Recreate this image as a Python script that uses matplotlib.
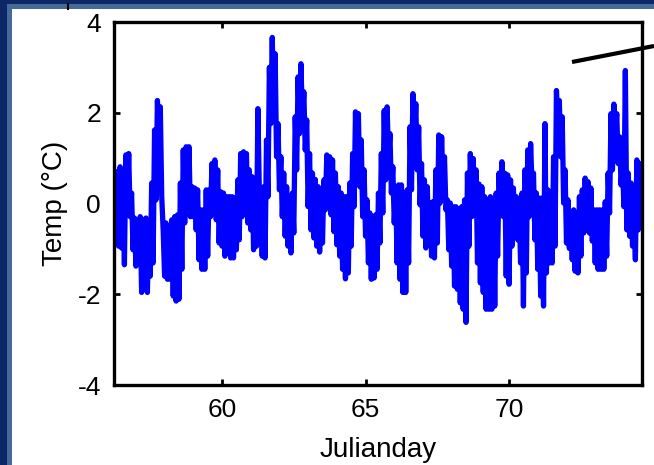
import numpy as np
import matplotlib
matplotlib.use("Agg")
import matplotlib.pyplot as plt
from matplotlib.patches import Rectangle
from matplotlib.lines import Line2D

# temperature anomaly (deg C), highest and lowest reading in each
# 0.1 julian-day window, starting at day 56.25
t0 = 56.25
dt = 0.1
temp_hi = [
    0.70, 0.59, 0.81, 0.67, 1.07, 1.10, 0.23, -0.32, -0.50, -0.29,
    -0.36, -0.32, -0.50, 0.45, 1.62, 2.27, 2.13, -0.58, -0.43, -0.72,
    -0.36, -0.29, -0.25, 0.45, 1.18, 1.25, 1.25, 0.37, 0.34, 0.30,
    -0.14,
    -0.14, 0.30, 0.30, 0.88, 0.96, 0.74, 0.26, 0.23, 0.15, 0.15,
    0.15, 0.12, 0.52, 1.10, 1.14, 1.10, 0.74, 0.59, 0.45, 2.09,
    0.23, 0.37, 1.40, 3.00, 3.66, 3.30, 1.76, 1.03, 0.67, 0.37,
    0.15,
    0.23, 1.91, 2.79, 3.08, 2.46, 1.84, 1.10, 0.67, 0.53, 0.37,
    0.12, 0.52, 1.07, 1.03, 0.96, 0.67, 0.37, 0.23, 0.15, 0.15,
    0.45, 1.10, 2.02, 1.98, 1.40, 0.74, 0.08, -0.21, -0.32, -0.25,
    0.23, 1.10, 2.05, 2.13, 1.54, 0.81, 0.37, 0.41, 0.41, 0.12,
    0.30, 1.69, 2.42, 2.20, 1.69, 0.88, 0.52, 0.37, 0.01, 0.04,
    0.74, 1.51, 1.47, 1.03, 0.08, 0.01, -0.07, -0.07, -0.12, -0.07,
    0.08,
    0.67, 1.10, 0.99, 0.74, 0.43, 0.37, 0.15, 0.08, 0.15, 0.08,
    0.23, 0.67, 0.92, 0.67, 0.63, 0.52, 0.34, 0.15, 0.08, 0.23,
    0.74, 1.18, 1.32, 0.67, 0.23, 0.12, 0.12, 1.76, 0.30, 0.23,
    1.03,
    2.49, 2.27, 1.91, 0.74, 0.08, -0.29, -0.14, -0.25, 0.15, 0.30,
    0.56, 0.48, 0.34, -0.14, -0.14, -0.14, -0.14, 0.04, 0.67, 1.98,
    2.19, 1.98, 1.47, 0.88, 2.93, 0.67, 0.45, -0.14, 0.96, 0.88,
]
temp_lo = [
    -0.36, -0.94, -0.98, -1.35, 0.01, -0.29, -1.02, -1.38, -1.31, -1.96,
    -1.45, -1.96, -1.60, -1.31, 0.08, 1.25, 0.15, -1.60, -1.67, -1.67,
    -2.04, -2.15, -2.11, -1.45, -0.43, 0.45, -0.29, -0.29, -0.58, -1.24,
    -1.45,
    -1.45, -1.16, -0.29, -0.14, -0.36, -0.87, -0.94, -1.16, -1.02, -1.20,
    -1.20, -1.02, -0.80, -0.29, 0.01, -0.43, -0.58, -1.02, -0.94, 0.23,
    -1.16, -1.20, 0.15, 1.76, 1.98, 1.03, 0.30, -0.29, -0.72, -0.94,
    -1.09,
    -0.65, 0.74, 1.54, 1.83, 1.18, -0.07, -0.58, -0.76, -0.94, -1.07,
    -0.87, -0.14, -0.03, -0.25, -0.62, -0.91, -1.16, -1.45, -1.66, -1.53,
    -0.94, -0.07, 0.67, 0.37, -0.29, -0.72, -1.31, -1.67, -1.64, -1.45,
    -0.87, -0.21, 0.52, 1.03, 0.23, -0.43, -1.31, -1.67, -1.96, -1.96,
    -1.31, 0.30, 1.32, 0.74, -0.03, -0.72, -0.98, -0.87, -1.16, -1.20,
    -0.87, 0.01, 0.37, -0.14, -1.02, -1.38, -1.82, -1.89, -2.19, -2.33,
    -2.62,
    -0.94, -0.29, -0.07, -1.31, -1.75, -1.96, -2.33, -2.33, -2.33, -2.26,
    -1.16, -0.21, -0.29, -1.60, -1.78, -0.94, -0.65, -0.80, -1.31, -2.26,
    -1.53, -0.29, 0.37, -0.80, -1.45, -2.04, -2.26, -1.53, -1.31, -1.31,
    -0.94,
    1.62, 1.03, 0.01, -0.87, -0.99, -1.24, -1.49, -1.53, -1.16, -0.65,
    -0.47, -0.65, -0.83, -1.31, -1.45, -1.45, -1.45, -1.16, -0.21, 0.74,
    1.53, 0.88, 0.41, -0.07, -0.58, -0.72, -0.94, -1.24, -0.58, 0.15,
]

xticks = [60, 65, 70]
yticks = [-4, -2, 0, 2, 4]
xlim = (56.22, 74.63)
ylim = (-4, 4)

# high/low alternate half a window apart, so the trace fills the daily swing
temp = np.column_stack([temp_hi, temp_lo]).ravel()
days = t0 + dt / 2 * np.arange(len(temp))

W, H = 654, 465
fig = plt.figure(figsize=(W / 100, H / 100), dpi=100)
fig.patch.set_facecolor("#0c2766")

# slide frame: light blue border, then white panel
fig.patches.append(Rectangle((7 / W, 0), 1, 1 - 4 / H, transform=fig.transFigure,
                             facecolor="#46699a", edgecolor="none", zorder=-10))
fig.patches.append(Rectangle((12 / W, 0), 1, 1 - 9 / H, transform=fig.transFigure,
                             facecolor="white", edgecolor="none", zorder=-9))

plt.rcParams["font.family"] = ["Liberation Sans", "DejaVu Sans"]
plt.rcParams["axes.unicode_minus"] = False

ax = fig.add_axes([113.5 / W, 1 - 385 / H, (642 - 113.5) / W, (385 - 22) / H])
ax.plot(days, temp, color="#0000ff", lw=3.8)

ax.set_xlim(*xlim)
ax.set_ylim(*ylim)
ax.set_xticks(xticks)
ax.set_yticks(yticks)
ax.tick_params(direction="in", length=4, width=2, top=True, right=True,
               labelsize=19, pad=9)
for s in ax.spines.values():
    s.set_linewidth(2.4)
ax.set_xlabel("Julianday", fontsize=20, labelpad=11)
ax.set_ylabel("Temp (°C)", fontsize=20, labelpad=7)

# annotation pointer running off the top right
fig.add_artist(Line2D([572 / W, 1.0], [1 - 62 / H, 1 - 46 / H],
                      transform=fig.transFigure, color="black", lw=3,
                      solid_capstyle="butt", clip_on=False))
fig.add_artist(Line2D([68 / W, 68 / W], [1 - 4 / H, 1 - 9 / H],
                      transform=fig.transFigure, color="black", lw=1.5))

fig.savefig("out.png", dpi=100, facecolor=fig.get_facecolor())
